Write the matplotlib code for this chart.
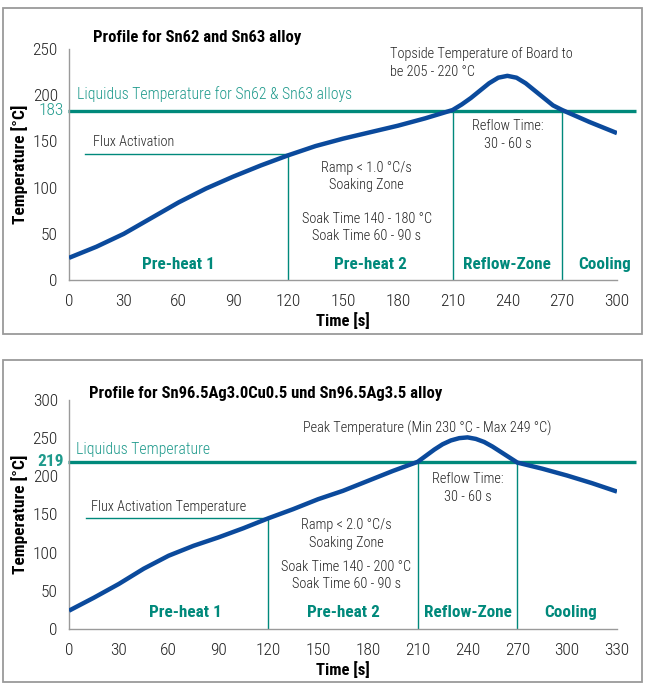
import matplotlib
matplotlib.use("Agg")
import matplotlib.pyplot as plt
import matplotlib.font_manager as fm
from matplotlib.patches import Rectangle

# the original uses a condensed sans; take the narrowest one that is installed
narrow = [f for f in fm.fontManager.ttflist
          if 'narrow' in f.name.lower() or 'condensed' in f.name.lower()
          or f.stretch in ('condensed', 'semi-condensed', 'extra-condensed', 575, 600, 700, 500, 400)]
preferred = ['Liberation Sans Narrow', 'Roboto Condensed', 'DejaVu Sans Condensed',
             'Open Sans Condensed', 'Noto Sans Condensed']
FONT = None
for p in preferred:
    if any(f.name == p for f in narrow):
        FONT = p
        break
if FONT is None and narrow:
    FONT = narrow[0].name
STRETCH = 'normal'
if FONT is None:
    FONT = 'DejaVu Sans'
    STRETCH = 'condensed'
plt.rcParams['font.family'] = [FONT, 'DejaVu Sans']
plt.rcParams['font.stretch'] = STRETCH if FONT == 'DejaVu Sans' else 'normal'
if any(f.name == FONT and f.stretch not in ('normal', 500) for f in narrow):
    plt.rcParams['font.stretch'] = 'condensed'
plt.rcParams['font.weight'] = 'light'

# Profile 1: Sn62 / Sn63
time_1 = [0, 15, 30, 45, 60, 75, 90, 105, 120, 135, 150, 165, 180, 195, 210,
          215, 220, 225, 230, 235, 240, 245, 250, 255, 260, 265, 270, 285, 300]
temp_1 = [24, 36, 50, 67, 84, 99, 112, 124, 135, 145, 153, 160, 167, 175, 184,
          190, 197, 205, 213, 219, 221, 219, 213, 205, 197, 189, 184, 171, 159]

# Profile 2: Sn96.5Ag3.0Cu0.5 / Sn96.5Ag3.5
time_2 = [0, 15, 30, 45, 60, 75, 90, 105, 120, 135, 150, 165, 180, 195, 210,
          215, 220, 225, 230, 235, 240, 245, 250, 255, 260, 265, 270, 285, 300,
          315, 330]
temp_2 = [24, 41, 59, 79, 96, 109, 120, 132, 145, 157, 170, 181, 194, 207, 219,
          227, 235, 242, 247, 250, 251, 249, 245, 239, 232, 225, 218, 210, 201,
          191, 180]

zones = ["Pre-heat 1", "Pre-heat 2", "Reflow-Zone", "Cooling"]
zone_x_1 = [60, 165, 240, 293]
zone_x_2 = [70, 165, 240, 302]

TEAL = "#00897b"
TEAL_TXT = "#1f9a8c"
BLUE = "#0b4a9c"
GREY = "#9a9a9a"
INK = "#222222"
SMALL = 10.3

fig = plt.figure(figsize=(6.47, 6.87), dpi=100)

# grey frames around both panels
for y0, h in [(0.5138, 0.4746), (0.0073, 0.4687)]:
    fig.patches.append(Rectangle((0.0046, y0), 0.9877, h, transform=fig.transFigure,
                                 fill=False, edgecolor=GREY, linewidth=1.3))


def draw_profile(ax, t, temp, xmax, ymax, liquidus, flux, title, title_pos,
                 liq_text, liq_y, liq_label_bold, flux_text, flux_y, peak_text,
                 peak_pos, ramp_text, ramp_y, soak_text, soak_y, reflow_y,
                 zone_x, zone_y):
    ax.set_xlim(0, xmax)
    ax.set_ylim(0, ymax)
    for s in ['top', 'right']:
        ax.spines[s].set_visible(False)
    for s in ['left', 'bottom']:
        ax.spines[s].set_color(GREY)
        ax.spines[s].set_linewidth(1.0)
    ax.set_xticks(range(0, xmax + 1, 30))
    ax.set_yticks(range(0, ymax + 1, 50))
    ax.tick_params(length=0, labelsize=12.5, colors=INK)
    ax.tick_params(axis='x', pad=10)
    ax.tick_params(axis='y', pad=8)
    ax.set_xlabel("Time [s]", fontsize=12, fontweight='bold', labelpad=2)
    ax.set_ylabel("Temperature [°C]", fontsize=12.5, fontweight='bold')
    ax.yaxis.set_label_coords(-0.074, 0.5)

    # zone separators and helper lines
    ax.plot([flux[0], 120], [flux[1], flux[1]], color=TEAL, lw=1.0)
    ax.plot([120, 120], [0, flux[1]], color=TEAL, lw=1.0)
    ax.plot([210, 210], [0, liquidus], color=TEAL, lw=1.0)
    ax.plot([270, 270], [0, liquidus], color=TEAL, lw=1.0)
    ax.plot([-0.5, xmax * 1.034], [liquidus, liquidus], color=TEAL, lw=2.4,
            clip_on=False, solid_capstyle='butt')

    ax.plot(t, temp, color=BLUE, lw=3.2, solid_capstyle='butt', zorder=3)

    ax.text(title_pos[0], title_pos[1], title, fontsize=12, fontweight='bold',
            va='center', ha='left', clip_on=False)
    ax.text(4.5, liq_y, liq_text, fontsize=11.3, color=TEAL_TXT, va='center', ha='left')
    ax.text(-3, liquidus, str(liquidus), fontsize=12.5, color=TEAL_TXT, va='center',
            ha='right', fontweight='bold' if liq_label_bold else 'light', clip_on=False)
    ax.text(13, flux_y, flux_text, fontsize=SMALL, va='center', ha='left', color=INK)
    ax.text(peak_pos[0], peak_pos[1], peak_text, fontsize=SMALL, va='center', ha='left',
            color=INK, linespacing=1.35)
    ax.text(ramp_y[0], ramp_y[1], ramp_text, fontsize=SMALL, va='center', ha='center',
            color=INK, linespacing=1.35)
    ax.text(soak_y[0], soak_y[1], soak_text, fontsize=SMALL, va='center', ha='center',
            color=INK, linespacing=1.25)
    ax.text(240, reflow_y, "Reflow Time:\n30 - 60 s", fontsize=SMALL, va='center',
            ha='center', color=INK, linespacing=1.35)
    for name, zx in zip(zones, zone_x):
        ax.text(zx, zone_y, name, fontsize=12.3, fontweight='bold', color=TEAL,
                va='center', ha='center')


ax1 = fig.add_axes([0.1066, 0.5924, 0.847, 0.3362])
draw_profile(ax1, time_1, temp_1, 300, 250, 183, (9, 136),
             "Profile for Sn62 and Sn63 alloy", (13, 263),
             "Liquidus Temperature for Sn62 & Sn63 alloys", 201, False,
             "Flux Activation", 149,
             "Topside Temperature of Board to\nbe 205 - 220 °C", (176, 235),
             "Ramp < 1.0 °C/s\nSoaking Zone", (163, 112),
             "Soak Time 140 - 180 °C\nSoak Time 60 - 90 s", (163, 57),
             157, zone_x_1, 17)

ax2 = fig.add_axes([0.1066, 0.0844, 0.847, 0.3334])
draw_profile(ax2, time_2, temp_2, 330, 300, 219, (10, 146),
             "Profile for Sn96.5Ag3.0Cu0.5 und Sn96.5Ag3.5 alloy", (12, 308),
             "Liquidus Temperature", 235, True,
             "Flux Activation Temperature", 160,
             "Peak Temperature (Min 230 °C - Max 249 °C)", (141, 263),
             "Ramp < 2.0 °C/s\nSoaking Zone", (167, 124),
             "Soak Time 140 - 200 °C\nSoak Time 60 - 90 s", (167, 70),
             185, zone_x_2, 22)

fig.savefig("out.png", dpi=100)
